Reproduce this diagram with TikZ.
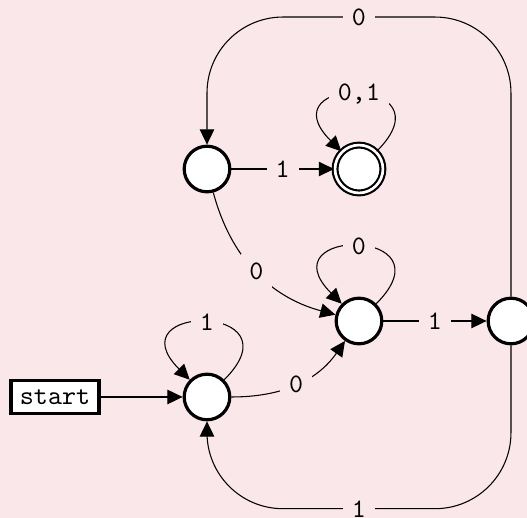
\documentclass[tikz,border=0pt]{standalone}
\usetikzlibrary{arrows.meta}
\definecolor{bgpink}{RGB}{250,231,233}
\tikzset{
  state/.style={circle, draw, very thick, fill=white, minimum size=0.6cm, inner sep=0pt},
  final/.style={state, double, double distance=1pt, thick, minimum size=0.63cm},
  lbl/.style={fill=bgpink, font=\ttfamily},
  >={Triangle[length=2mm,width=1.9mm]}
}
\begin{document}
\begin{tikzpicture}
            \fill[bgpink] (-2.724,-4.592) rectangle (4.211,2.224);
            \useasboundingbox (-2.724,-4.592) rectangle (4.211,2.224);

            \node[state] (q0) at (0,-3) {};
            \node[state] (q1) at (2,-2) {};
            \node[state] (q2) at (4,-2) {};
            \node[state] (q3) at (0,0) {};
            \node[final] (q4) at (2,0) {};
            \node[draw, very thick, fill=white, font=\ttfamily] (start) at (-2,-3) {start};
            \coordinate (top) at (2,2);
            \coordinate (bot) at (2,-4.47);

            \draw[->] (start) to (q0);
            \draw[->] (q0) to[out=45,in=135,min distance=1.43cm] node[lbl] {1} (q0);
            \draw[->] (q0) to[out=0,in=235] node[lbl] {0} (q1);
            \draw[->] (q3) to[out=-75,in=165] node[lbl] {0} (q1);
            \draw[->] (q1) to[out=45,in=135,min distance=1.43cm] node[lbl] {0} (q1);
            \draw[->] (q1) to node[lbl] {1} (q2);
            \draw[->] (q3) to node[lbl] {1} (q4);
            \draw[->] (q4) to[out=45,in=135,min distance=1.43cm] node[lbl] {0,1} (q4);
            \draw[->, rounded corners=1cm] (q2) |- (top) node[lbl] {0} -| (q3);
            \draw[->, rounded corners=1cm] (q2) |- (bot) node[lbl] {1} -| (q0);
\end{tikzpicture}
\end{document}
